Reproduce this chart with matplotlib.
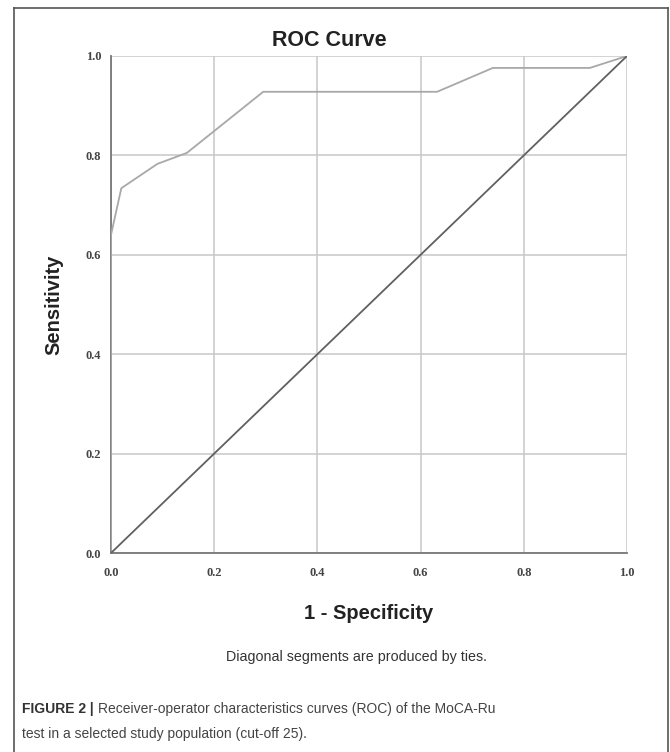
import matplotlib
matplotlib.use("Agg")
import matplotlib.pyplot as plt
from matplotlib.lines import Line2D

# ROC curve
fpr = [0.0, 0.0, 0.02, 0.09, 0.147, 0.295, 0.632, 0.74, 0.928, 1.0]
tpr = [0.0, 0.64, 0.734, 0.783, 0.805, 0.928, 0.928, 0.976, 0.976, 1.0]
ref_x = [0.0, 1.0]
ref_y = [0.0, 1.0]
ticks = [0.0, 0.2, 0.4, 0.6, 0.8, 1.0]

W, H = 670, 752
fig = plt.figure(figsize=(W / 100, H / 100), dpi=100)
fig.patch.set_facecolor("white")

# outer frame of the figure panel
frame = dict(transform=fig.transFigure, color="#555555", lw=1.2)
fig.add_artist(Line2D([14 / W, 14 / W], [0, 1 - 8 / H], **frame))
fig.add_artist(Line2D([14 / W, 668 / W], [1 - 8 / H, 1 - 8 / H], **frame))
fig.add_artist(Line2D([668 / W, 668 / W], [0, 1 - 8 / H], **frame))

ax = fig.add_axes([111 / W, 1 - 553 / H, 516 / W, 497 / H])
ax.plot(fpr, tpr, color="#a8a8a8", lw=1.3, zorder=3)
ax.plot(ref_x, ref_y, color="#606060", lw=1.3, zorder=3)
ax.set_xlim(0, 1)
ax.set_ylim(0, 1)
ax.set_xticks(ticks)
ax.set_yticks(ticks)
ax.set_xticklabels([f"{t:.1f}" for t in ticks])
ax.set_yticklabels([f"{t:.1f}" for t in ticks])
ax.grid(True, color="#c8c8c8", lw=1.1)
ax.set_axisbelow(True)
for s in ["top", "right"]:
    ax.spines[s].set_visible(False)
for s in ["left", "bottom"]:
    ax.spines[s].set_color("#777777")
    ax.spines[s].set_linewidth(1.3)
ax.tick_params(length=0, labelsize=9, labelcolor="#444444")
ax.tick_params(axis="x", pad=10)
ax.tick_params(axis="y", pad=7)
for lab in ax.get_xticklabels() + ax.get_yticklabels():
    lab.set_family("Liberation Serif")
    lab.set_fontweight("bold")

fig.text(329 / W, 1 - 40 / H, "ROC Curve", ha="center", va="center", fontsize=15.5,
         fontweight="bold", family="Liberation Sans", color="#222222")
ax.set_ylabel("Sensitivity", fontsize=14.5, fontweight="bold", family="Liberation Sans",
              color="#222222", labelpad=16)
ax.set_xlabel("1 - Specificity", fontsize=14.5, fontweight="bold", family="Liberation Sans",
              color="#222222", labelpad=18)

fig.text(357 / W, 1 - 657 / H, "Diagonal segments are produced by ties.", ha="center",
         va="center", fontsize=10.3, family="Liberation Sans", color="#333333")

# caption
t1 = fig.text(22 / W, 1 - 709 / H, "FIGURE 2 |", fontsize=10, fontweight="bold",
              family="Liberation Sans", color="#333333", va="center")
fig.canvas.draw()
bb = t1.get_window_extent()
fig.text((bb.x1 + 4) / W, 1 - 709 / H,
         "Receiver-operator characteristics curves (ROC) of the MoCA-Ru",
         fontsize=10, family="Liberation Sans", color="#444444", va="center")
fig.text(22 / W, 1 - 734 / H, "test in a selected study population (cut-off 25).",
         fontsize=10, family="Liberation Sans", color="#444444", va="center")

fig.savefig("out.png", dpi=100)
